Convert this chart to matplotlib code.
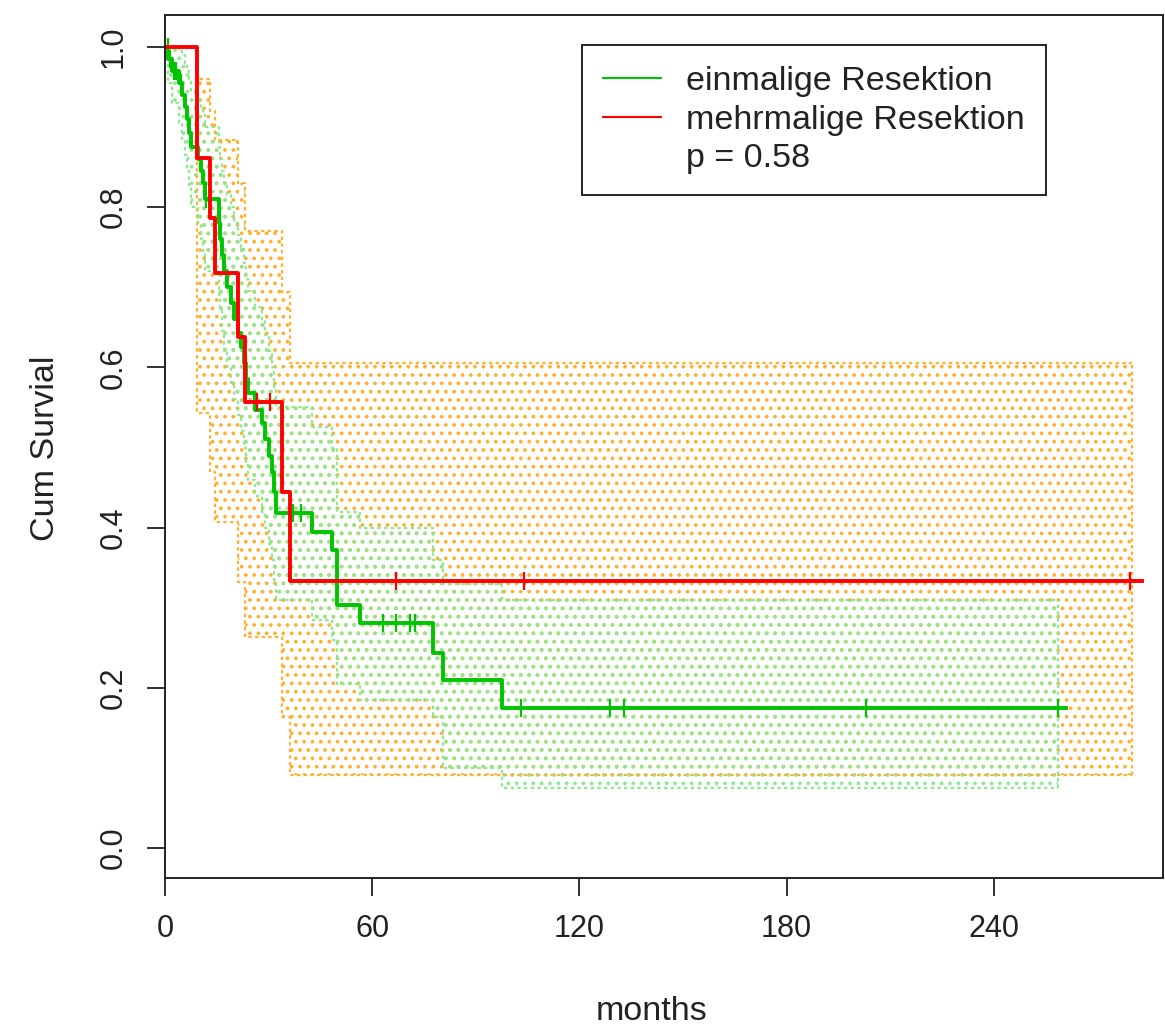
import numpy as np
import matplotlib
matplotlib.use("Agg")
import matplotlib.pyplot as plt
from matplotlib.lines import Line2D

plt.rcParams['font.family'] = ['Liberation Sans', 'DejaVu Sans']
plt.rcParams['hatch.linewidth'] = 1.5

# ---- data ----
# group 1: einmalige Resektion (green)
green_t = [0, 1.0, 2.0, 4.0, 5.0, 5.8, 6.3, 7.0, 7.6, 9.5, 10.5, 11.0, 11.6,
           15.5, 16.0, 16.5, 17.0, 18.0, 19.0, 20.0, 21.0, 22.0, 23.0, 23.5, 24.0,
           26.0, 28.0, 29.0, 30.0, 31.0, 31.5, 32.0, 42.6, 48.4, 49.8, 56.5, 77.6, 80.5, 97.6]
green_s = [1.0, 0.985, 0.97, 0.955, 0.94, 0.925, 0.91, 0.893, 0.875, 0.86, 0.845, 0.83, 0.81,
           0.78, 0.76, 0.74, 0.72, 0.70, 0.68, 0.66, 0.643, 0.625, 0.605, 0.585, 0.568,
           0.547, 0.53, 0.51, 0.49, 0.47, 0.445, 0.418, 0.395, 0.372, 0.303, 0.281, 0.243, 0.21, 0.175]
green_lower = [1.0, 0.955, 0.93, 0.905, 0.885, 0.865, 0.845, 0.825, 0.80, 0.78, 0.76, 0.745, 0.72,
               0.69, 0.67, 0.645, 0.62, 0.60, 0.58, 0.56, 0.54, 0.52, 0.50, 0.48, 0.46,
               0.44, 0.42, 0.40, 0.38, 0.36, 0.335, 0.31, 0.285, 0.26, 0.205, 0.185, 0.163, 0.10, 0.075]
green_upper = [1.0, 1.0, 1.0, 0.995, 0.99, 0.98, 0.97, 0.96, 0.945, 0.935, 0.925, 0.915, 0.90,
               0.875, 0.86, 0.845, 0.83, 0.815, 0.80, 0.78, 0.765, 0.75, 0.73, 0.71, 0.695,
               0.675, 0.66, 0.64, 0.62, 0.60, 0.575, 0.55, 0.525, 0.50, 0.42, 0.40, 0.36, 0.33, 0.31]
green_end = 261.0
green_band_end = 258.5
green_cens = [0.8, 1.5, 2.5, 3.2, 4.5, 11.8, 15.9, 37.0, 39.5, 63.0, 67.0, 71.0, 72.5,
              103.0, 129.0, 133.0, 203.0, 258.5]

# group 2: mehrmalige Resektion (red)
red_t = [0, 9.3, 13.0, 14.5, 21.1, 23.2, 33.9, 36.2]
red_s = [1.0, 0.861, 0.787, 0.718, 0.638, 0.557, 0.444, 0.333]
red_upper = [1.0, 0.96, 0.92, 0.884, 0.83, 0.77, 0.694, 0.605]
red_lower = [1.0, 0.543, 0.47, 0.407, 0.332, 0.263, 0.163, 0.091]
red_end = 283.0
red_band_end = 280.0
red_cens = [26.6, 30.4, 67.0, 104.0, 279.5]

labels = ["einmalige Resektion", "mehrmalige Resektion"]
p_text = "p = 0.58"
xticks = [0, 60, 120, 180, 240]
yticks = [0.0, 0.2, 0.4, 0.6, 0.8, 1.0]

GREEN = '#00c400'
RED = '#ff0000'
ORANGE = '#ffb030'
LGREEN = '#8ee88e'
TXT = '#222222'

fig = plt.figure(figsize=(11.65, 10.31), dpi=100)
ax = fig.add_axes([165/1165, 1-878/1031, (1163-165)/1165, (878-15)/1031])


def ext(t, v, end):
    return np.append(t, end), np.append(v, v[-1])


def step_at(t, s, x):
    idx = np.searchsorted(t, x, side='right') - 1
    return np.asarray(s)[idx]


# confidence bands
for t, lo, hi, end, col, hatch in [(red_t, red_lower, red_upper, red_band_end, ORANGE, '..'),
                                   (green_t, green_lower, green_upper, green_band_end, LGREEN, '..')]:
    tx, lx = ext(t, lo, end)
    _, hx = ext(t, hi, end)
    ax.fill_between(tx, lx, hx, step='post', facecolor='none', edgecolor=col,
                    hatch=hatch, linewidth=0)
    ax.step(tx, lx, where='post', color=col, lw=1.6, ls=(0, (1.5, 1.5)))
    ax.step(tx, hx, where='post', color=col, lw=1.6, ls=(0, (1.5, 1.5)))
    ax.plot([end, end], [lx[-1], hx[-1]], color=col, lw=1.6, ls=(0, (1.5, 1.5)))

# survival curves
for t, s, end, cens, col in [(green_t, green_s, green_end, green_cens, GREEN),
                             (red_t, red_s, red_end, red_cens, RED)]:
    tx, sx = ext(t, s, end)
    ax.step(tx, sx, where='post', color=col, lw=2.8)
    ax.plot(cens, step_at(np.array(t), s, np.array(cens)), ls='none', marker='|',
            ms=13, mew=1.6, color=col)

ax.set_xlim(0, 289)
ax.set_ylim(-0.0375, 1.04)
ax.set_xticks(xticks)
ax.set_xticklabels([str(v) for v in xticks])
ax.set_yticks(yticks)
ax.set_yticklabels([f"{v:.1f}" for v in yticks], rotation=90, va='center')
ax.tick_params(axis='both', direction='out', length=13, width=1.3, labelsize=22,
               pad=13, colors=TXT)
for sp in ax.spines.values():
    sp.set_linewidth(1.4)
    sp.set_color(TXT)

fig.text(652/1165, 1-1011/1031, "months", ha='center', va='center', fontsize=24.5, color=TXT)
fig.text(45/1165, 1-448/1031, "Cum Survial", ha='center', va='center', rotation=90,
         fontsize=24.5, color=TXT)

handles = [Line2D([], [], color=GREEN, lw=1.5),
           Line2D([], [], color=RED, lw=1.5),
           Line2D([], [], color='none', lw=0)]
leg = ax.legend(handles, labels + [p_text], loc='upper left',
                bbox_to_anchor=((582-165)/998, (878-45)/863), fontsize=24.5,
                frameon=True, fancybox=False, framealpha=1, edgecolor=TXT,
                handlelength=1.7, handletextpad=0.75, labelspacing=0.22,
                borderpad=0.62, borderaxespad=0)
leg.get_frame().set_linewidth(1.4)
for txt in leg.get_texts():
    txt.set_color(TXT)

fig.savefig("out.png", dpi=100)
